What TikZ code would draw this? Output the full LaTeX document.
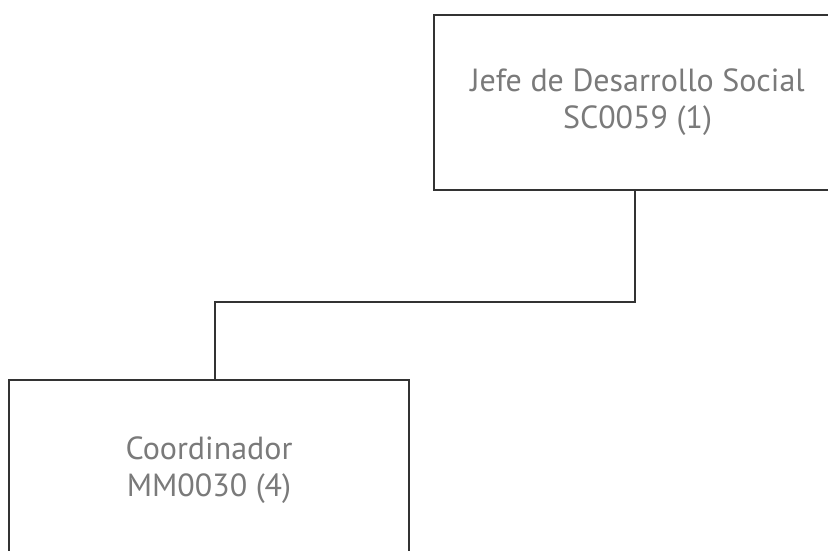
\documentclass[tikz,border=0pt]{standalone}
\usepackage{fontspec}
\setmainfont{PT Sans}
\definecolor{linegray}{HTML}{333333}
\definecolor{textgray}{HTML}{7A7A7A}
\tikzset{
  orgbox/.style={draw=linegray, line width=2.6pt, fill=white, rectangle, align=center,
    text=textgray, font=\fontsize{32}{37}\selectfont, inner sep=0pt},
  link/.style={draw=linegray, line width=2.6pt}
}
\begin{document}
\begin{tikzpicture}[x=1pt,y=-1pt]
\useasboundingbox (0,0) rectangle (828,551);
\clip (0,0) rectangle (828,551);
\fill[white] (0,0) rectangle (828,551);
\node[orgbox, minimum width=407pt, minimum height=175pt] (top) at (637.5,102.5) {Jefe de Desarrollo Social\\SC0059 (1)};
\node[orgbox, minimum width=400pt, minimum height=180pt] (bot) at (209,470) {Coordinador\\MM0030 (4)};
\coordinate (j1) at (635,302);
\coordinate (j2) at (215,302);
\draw[link] ([xshift=-2.5pt]top.south) -- (j1) -- (j2) -- ([xshift=6pt]bot.north);
\end{tikzpicture}
\end{document}
